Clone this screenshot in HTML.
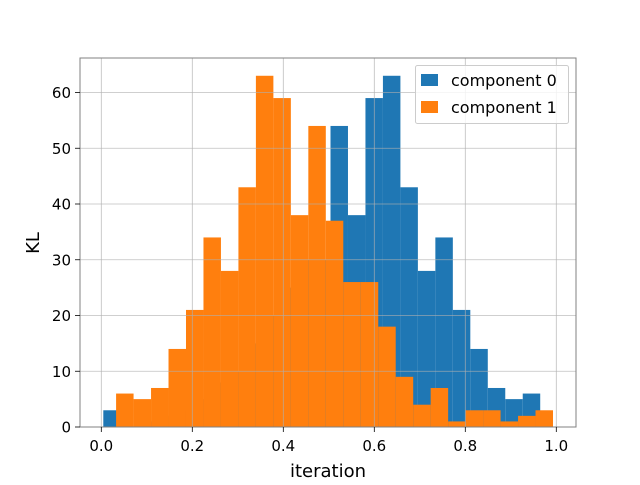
<!DOCTYPE html>
<html><head><meta charset="utf-8"><style>
body{margin:0;background:#fff;}
svg text{font-family:"DejaVu Sans","Liberation Sans",sans-serif;fill:#000;}
</style></head><body>
<svg id="chart" width="640" height="480" viewBox="0 0 640 480" xmlns="http://www.w3.org/2000/svg">
<g id="bars0"></g>
<g id="bars1"></g>
<g id="grid"></g>
<rect x="80" y="58" width="496" height="369" fill="none" stroke="#808080" stroke-width="1"/>
<g id="ticks"></g>
<text x="328" y="477" font-size="18" text-anchor="middle">iteration</text>
<text x="0" y="0" font-size="18" text-anchor="middle" transform="translate(39,243) rotate(-90)">KL</text>
<g>
<rect x="415.5" y="65.5" width="153" height="58" rx="2" fill="#fff" fill-opacity="0.8" stroke="#cccccc"/>
<rect x="421" y="74" width="17" height="12" fill="#1f77b4"/>
<text x="451" y="86" font-size="16">component 0</text>
<rect x="421" y="101" width="17" height="12" fill="#ff7f0e"/>
<text x="451" y="113" font-size="16">component 1</text>
</g>
</svg>
<script>
const binWidth = 0.03841;
const start0 = 0.0044;
const start1 = 0.0325;
const counts0 = [3,0,1,2,3,5,8,10,15,20,25,30,30,54,38,59,63,43,28,34,21,14,7,5,6];
const counts1 = [6,5,7,14,21,34,28,43,63,59,38,54,37,26,26,18,9,4,7,1,3,3,1,2,3];
const xTicks = [0.0,0.2,0.4,0.6,0.8,1.0];
const xTickLabels = ["0.0","0.2","0.4","0.6","0.8","1.0"];
const yTicks = [0,10,20,30,40,50,60];
const yTickLabels = ["0","10","20","30","40","50","60"];

const NS="http://www.w3.org/2000/svg";
function xs(v){return 101.3+v*455;}
function ys(v){return 427-v*5.575;}
function mk(tag,attrs,parent){const e=document.createElementNS(NS,tag);for(const k in attrs)e.setAttribute(k,attrs[k]);parent.appendChild(e);return e;}

function drawBars(counts,start,color,gid,prefix){
  const g=document.getElementById(gid);
  counts.forEach((c,i)=>{
    if(c<=0)return;
    const x0=xs(start+i*binWidth), x1=xs(start+(i+1)*binWidth);
    const r=mk('rect',{x:x0,y:ys(c),width:x1-x0,height:ys(0)-ys(c),fill:color},g);
    
    
  });
}
drawBars(counts0,start0,'#1f77b4','bars0','component-0');
drawBars(counts1,start1,'#ff7f0e','bars1','component-1');

const grid=document.getElementById('grid');
const ticks=document.getElementById('ticks');
xTicks.forEach((v,i)=>{
  const x=xs(v);
  const gl=mk('line',{x1:x,x2:x,y1:58,y2:427,stroke:'#b0b0b0','stroke-width':0.8,'stroke-opacity':0.8},grid);
  
  
  const tl=mk('line',{x1:x,x2:x,y1:427,y2:432,stroke:'#000','stroke-width':0.8},ticks);
  
  
  const t=mk('text',{x:x,y:451,'font-size':15,'text-anchor':'middle'},ticks);
  t.textContent=xTickLabels[i];
  
  
});
yTicks.forEach((v,i)=>{
  const y=ys(v);
  const gl=mk('line',{x1:80,x2:576,y1:y,y2:y,stroke:'#b0b0b0','stroke-width':0.8,'stroke-opacity':0.8},grid);
  
  
  const tl=mk('line',{x1:75,x2:80,y1:y,y2:y,stroke:'#000','stroke-width':0.8},ticks);
  
  
  const t=mk('text',{x:71,y:y+5.5,'font-size':15,'text-anchor':'end'},ticks);
  t.textContent=yTickLabels[i];
  
  
});
</script>
</body></html>
